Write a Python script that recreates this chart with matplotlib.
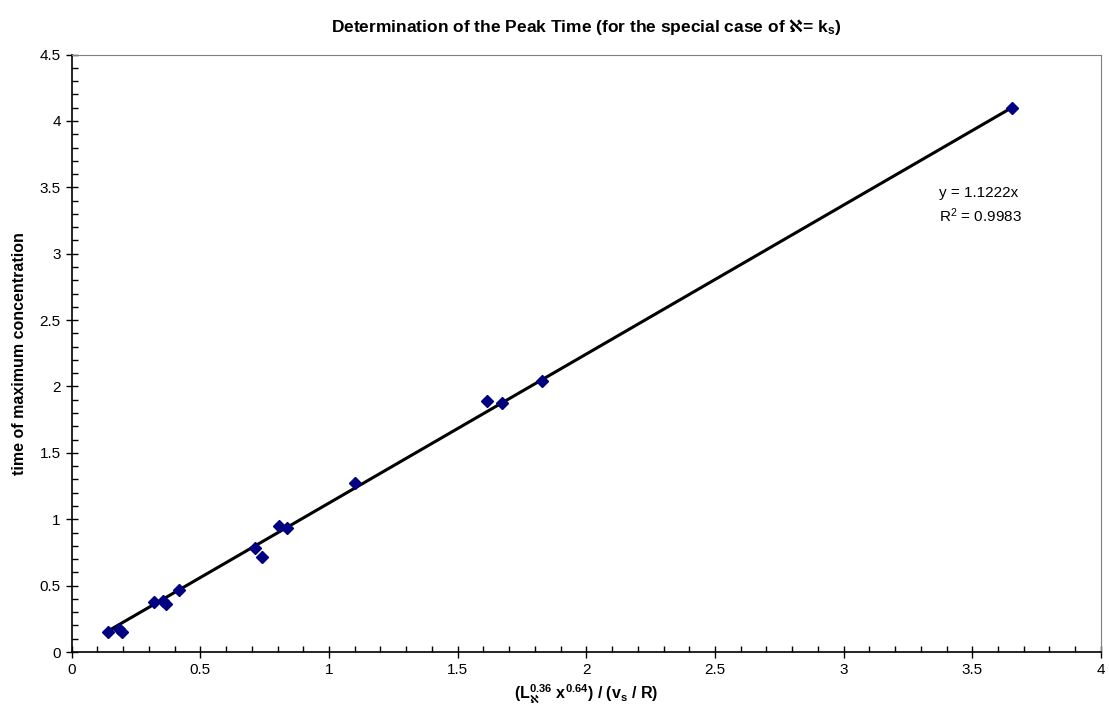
import matplotlib
matplotlib.use("Agg")
import matplotlib.pyplot as plt
import numpy as np
from matplotlib.ticker import MultipleLocator

# Arial-like look
plt.rcParams['font.family'] = ['Liberation Sans', 'DejaVu Sans']
plt.rcParams['mathtext.fontset'] = 'custom'
plt.rcParams['mathtext.rm'] = 'Liberation Sans'
plt.rcParams['mathtext.it'] = 'Liberation Sans'
plt.rcParams['mathtext.bf'] = 'Liberation Sans:bold'
plt.rcParams['mathtext.sf'] = 'DejaVu Sans:bold'   # bold aleph

# Data
x_vals = [0.142, 0.185, 0.195, 0.321, 0.356, 0.366, 0.417,
          0.712, 0.738, 0.806, 0.838, 1.101, 1.613, 1.671, 1.827, 3.653]
y_vals = [0.150, 0.170, 0.150, 0.377, 0.386, 0.359, 0.467,
          0.781, 0.713, 0.949, 0.934, 1.275, 1.891, 1.878, 2.044, 4.100]

slope = 1.1222
r2 = 0.9983

fig = plt.figure(figsize=(11.09, 7.21), dpi=100)
ax = fig.add_axes([0.0647, 0.0957, 0.928, 0.8286])

# Trendline through origin, drawn over the data range
xl = np.array([min(x_vals), max(x_vals)])
ax.plot(xl, slope * xl, color='black', linewidth=2.2, zorder=2)
ax.plot(x_vals, y_vals, linestyle='none', marker='D', markersize=6,
        color='#000080', zorder=3)

ax.set_xlim(0, 4)
ax.set_ylim(0, 4.5)
ax.xaxis.set_major_locator(MultipleLocator(0.5))
ax.xaxis.set_minor_locator(MultipleLocator(0.1))
ax.yaxis.set_major_locator(MultipleLocator(0.5))
ax.yaxis.set_minor_locator(MultipleLocator(0.1))
ax.xaxis.set_major_formatter(plt.FuncFormatter(lambda v, p: '%g' % v))
ax.yaxis.set_major_formatter(plt.FuncFormatter(lambda v, p: '%g' % v))
ax.tick_params(which='major', direction='inout', length=8, width=1, labelsize=11, pad=4)
ax.tick_params(which='minor', direction='in', length=4, width=1)

for s in ['left', 'bottom']:
    ax.spines[s].set_color('black')
    ax.spines[s].set_linewidth(1.2)
for s in ['top', 'right']:
    ax.spines[s].set_color('#808080')
    ax.spines[s].set_linewidth(0.8)

ax.set_title(r'Determination of the Peak Time (for the special case of $\mathsf{\aleph}$= k$_{\mathbf{s}}$)',
             fontsize=12.5, fontweight='bold', pad=16)
ax.set_xlabel(r'(L$_{\mathsf{\aleph}}^{\mathbf{0.36}}$ x$^{\mathbf{0.64}}$) / (v$_{\mathbf{s}}$ / R)',
              fontsize=11.5, fontweight='bold', labelpad=4)
ax.set_ylabel('time of maximum concentration', fontsize=11.5, fontweight='bold', labelpad=9)

ax.text(3.37, 3.46, 'y = %.4fx' % slope, fontsize=11, va='center')
ax.text(3.37, 3.29, r'R$^2$ = %.4f' % r2, fontsize=11, va='center')

fig.savefig('out.png', dpi=100)
